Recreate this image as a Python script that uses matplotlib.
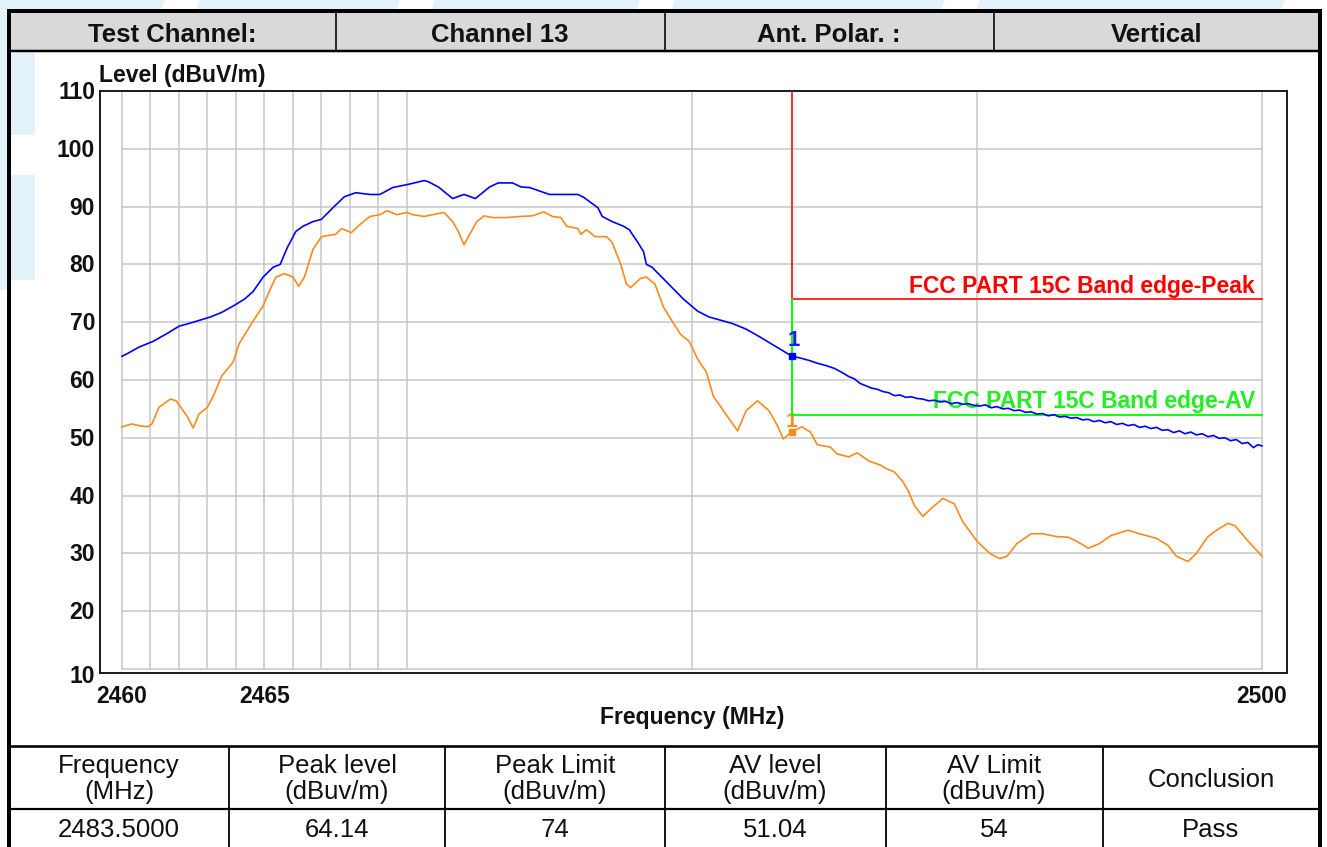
import matplotlib
matplotlib.use("Agg")
import matplotlib.pyplot as plt
from matplotlib.patches import Rectangle, Polygon
from matplotlib.lines import Line2D

plt.rcParams['font.family'] = ['Liberation Sans', 'DejaVu Sans']

# ---------------- data ----------------
header_cells = ["Test Channel:", "Channel 13", "Ant. Polar. :", "Vertical"]
table_head = [("Frequency", "(MHz)"), ("Peak level", "(dBuv/m)"), ("Peak Limit", "(dBuv/m)"),
              ("AV level", "(dBuv/m)"), ("AV Limit", "(dBuv/m)"), ("Conclusion", None)]
table_vals = ["2483.5000", "64.14", "74", "51.04", "54", "Pass"]

x_grid = [2460, 2461, 2462, 2463, 2464, 2465, 2466, 2467, 2468, 2469, 2470, 2480, 2490, 2500]
y_grid = [10, 20, 30, 40, 50, 60, 70, 80, 90, 100, 110]
x_ticklabels = [2460, 2465, 2500]
y_ticklabels = [10, 20, 30, 40, 50, 60, 70, 80, 90, 100, 110]

marker_freq = 2483.5
peak_marker = 64.14
av_marker = 51.04
peak_limit = 74
av_limit = 54

peak_f = [2460.0, 2460.2, 2460.6, 2461.1, 2461.6, 2462.0, 2462.5, 2463.1, 2463.5, 2463.9,
          2464.3, 2464.6, 2464.95, 2465.3, 2465.55, 2465.8, 2466.1, 2466.35, 2466.7, 2467.0,
          2467.4, 2467.8, 2468.2, 2468.7, 2469.05, 2469.5, 2470.0, 2470.6, 2470.75, 2471.1,
          2471.3, 2471.6, 2472.0, 2472.4, 2472.9, 2473.2, 2473.7, 2474.0, 2474.3, 2475.0,
          2476.0, 2476.2, 2476.7, 2476.85, 2477.2, 2477.6, 2477.8, 2478.1, 2478.3, 2478.4,
          2478.6, 2479.3, 2479.7, 2480.2, 2480.6, 2481.4, 2481.9, 2482.4, 2482.8, 2483.5,
          2483.8, 2484.1, 2484.4, 2484.7, 2485.0, 2485.3, 2485.5, 2485.7, 2485.9, 2486.1,
          2486.3, 2486.5, 2486.7, 2486.9, 2487.1, 2487.3, 2487.5, 2487.7, 2487.9, 2488.1,
          2488.3, 2488.5, 2488.7, 2488.9, 2489.1, 2489.3, 2489.5, 2489.7, 2489.9, 2490.1,
          2490.3, 2490.5, 2490.7, 2490.9, 2491.1, 2491.3, 2491.5, 2491.7, 2491.9, 2492.1,
          2492.3, 2492.5, 2492.7, 2492.9, 2493.1, 2493.3, 2493.5, 2493.7, 2493.9, 2494.1,
          2494.3, 2494.5, 2494.7, 2494.9, 2495.1, 2495.3, 2495.5, 2495.7, 2495.9, 2496.1,
          2496.3, 2496.5, 2496.7, 2496.9, 2497.1, 2497.3, 2497.5, 2497.7, 2497.9, 2498.1,
          2498.3, 2498.5, 2498.7, 2498.9, 2499.1, 2499.3, 2499.5, 2499.7, 2499.85, 2500.0]
peak_l = [64.1, 64.6, 65.7, 66.7, 68.1, 69.3, 70.0, 70.9, 71.7, 72.8,
          74.0, 75.3, 77.8, 79.5, 80.0, 82.9, 85.7, 86.6, 87.4, 87.8,
          89.8, 91.7, 92.4, 92.1, 92.1, 93.3, 93.8, 94.5, 94.3, 93.4,
          92.6, 91.4, 92.1, 91.4, 93.4, 94.1, 94.1, 93.4, 93.3, 92.1,
          92.1, 91.6, 89.8, 88.3, 87.4, 86.6, 86.0, 83.8, 82.2, 80.0,
          79.5, 76.0, 74.0, 71.9, 70.9, 69.8, 68.8, 67.4, 66.2, 64.14,
          63.8, 63.4, 62.9, 62.5, 62.0, 61.2, 60.6, 60.2, 59.4, 59.0,
          58.6, 58.4, 58.0, 57.8, 57.3, 57.4, 57.0, 57.1, 56.8, 56.7,
          56.4, 56.5, 56.2, 56.3, 55.9, 56.1, 55.8, 55.9, 55.6, 55.5,
          55.7, 55.2, 55.4, 55.0, 55.1, 54.7, 54.8, 54.4, 54.5, 54.1,
          54.2, 53.8, 54.0, 53.6, 53.7, 53.4, 53.5, 53.1, 53.2, 52.8,
          53.0, 52.6, 52.8, 52.3, 52.5, 52.1, 52.3, 51.8, 52.0, 51.6,
          51.8, 51.3, 51.4, 50.9, 51.2, 50.7, 51.0, 50.5, 50.7, 50.2,
          50.4, 49.9, 50.0, 49.5, 49.7, 49.0, 49.2, 48.3, 48.8, 48.6]

av_f = [2460.0, 2460.35, 2460.6, 2460.9, 2461.05, 2461.3, 2461.7, 2461.9, 2462.1, 2462.3,
        2462.5, 2462.7, 2463.0, 2463.2, 2463.5, 2463.9, 2464.1, 2464.6, 2464.95, 2465.2,
        2465.4, 2465.7, 2466.0, 2466.2, 2466.4, 2466.7, 2467.0, 2467.5, 2467.7, 2468.05,
        2468.35, 2468.7, 2469.05, 2469.3, 2469.65, 2470.0, 2470.2, 2470.6, 2470.9, 2471.3,
        2471.6, 2471.8, 2472.0, 2472.2, 2472.45, 2472.7, 2473.0, 2473.5, 2474.0, 2474.4,
        2474.8, 2475.1, 2475.4, 2475.6, 2476.0, 2476.1, 2476.3, 2476.6, 2477.0, 2477.2,
        2477.5, 2477.7, 2477.85, 2478.2, 2478.4, 2478.7, 2479.0, 2479.3, 2479.6, 2479.9,
        2480.2, 2480.5, 2480.75, 2481.1, 2481.6, 2481.9, 2482.3, 2482.7, 2483.0, 2483.2,
        2483.5, 2483.85, 2484.15, 2484.4, 2484.85, 2485.1, 2485.5, 2485.8, 2486.2, 2486.6,
        2486.8, 2487.1, 2487.4, 2487.6, 2487.8, 2488.1, 2488.4, 2488.8, 2489.2, 2489.5,
        2490.0, 2490.45, 2490.8, 2491.05, 2491.4, 2491.9, 2492.3, 2492.8, 2493.2, 2493.5,
        2493.9, 2494.3, 2494.7, 2495.3, 2495.7, 2496.3, 2496.7, 2497.0, 2497.4, 2497.7,
        2498.1, 2498.4, 2498.8, 2499.05, 2499.5, 2500.0]
av_l = [51.9, 52.4, 52.1, 51.9, 52.4, 55.3, 56.7, 56.4, 55.0, 53.6,
        51.7, 54.1, 55.3, 57.2, 60.7, 63.1, 66.2, 70.2, 72.8, 75.7,
        77.8, 78.4, 77.8, 76.2, 77.8, 82.6, 84.8, 85.2, 86.2, 85.5,
        86.9, 88.3, 88.6, 89.3, 88.6, 89.0, 88.6, 88.3, 88.6, 89.0,
        87.4, 85.7, 83.4, 85.2, 87.4, 88.4, 88.1, 88.1, 88.3, 88.4,
        89.1, 88.3, 88.1, 86.6, 86.2, 85.2, 86.0, 84.8, 84.8, 83.8,
        80.0, 76.6, 76.0, 77.6, 77.8, 76.6, 72.6, 70.2, 67.9, 66.7,
        63.6, 61.4, 57.2, 54.7, 51.2, 54.7, 56.4, 54.7, 52.1, 49.8,
        51.04, 51.9, 51.0, 48.8, 48.4, 47.2, 46.7, 47.4, 46.0, 45.3,
        44.7, 44.1, 42.4, 40.7, 38.3, 36.4, 37.8, 39.5, 38.6, 35.5,
        32.1, 30.0, 29.1, 29.5, 31.7, 33.4, 33.4, 32.9, 32.8, 32.1,
        30.9, 31.7, 33.1, 34.0, 33.4, 32.6, 31.4, 29.5, 28.6, 30.0,
        32.9, 34.0, 35.2, 34.8, 32.2, 29.5]

# ---------------- figure ----------------
W, H = 1327, 847
fig = plt.figure(figsize=(W / 100, H / 100), dpi=100)
fig.patch.set_facecolor('white')


def fx(x):
    return x / W


def fy(y):
    return 1 - y / H


def fig_line(x0, y0, x1, y1, lw_px, color='black', z=5):
    fig.add_artist(Line2D([fx(x0), fx(x1)], [fy(y0), fy(y1)], transform=fig.transFigure,
                          color=color, lw=lw_px * 0.72, zorder=z, solid_capstyle='butt'))


def fig_rect(x0, y0, x1, y1, color, z=1):
    fig.add_artist(Rectangle((fx(x0), fy(y1)), fx(x1) - fx(x0), fy(y0) - fy(y1),
                             transform=fig.transFigure, facecolor=color, edgecolor='none', zorder=z))


# light blue watermark fragments
wm = '#e3f1fb'
top_segments = [(0, 165), (200, 400), (435, 640), (675, 945), (980, 1285)]
for a, b in top_segments:
    fig.add_artist(Polygon([(fx(a), fy(0)), (fx(b), fy(0)), (fx(b - 4), fy(10)), (fx(a - 4), fy(10))],
                           closed=True, transform=fig.transFigure, facecolor=wm, edgecolor='none', zorder=0))
fig_rect(0, 0, 8, 290, wm, z=0)
fig_rect(11, 53, 35, 135, wm, z=0)
fig_rect(11, 175, 35, 280, wm, z=0)

# header
fig_rect(10, 12, 1319, 51, '#d9d9d9', z=1)
fig_line(8, 11, 1321, 11, 4)
fig_line(9, 9, 9, 849, 4)
fig_line(1320, 9, 1320, 849, 4)
fig_line(9, 51, 1320, 51, 2.5)
for xd in [336, 665, 994]:
    fig_line(xd, 11, xd, 51, 1.6)
header_centers = [172, 500, 829, 1157]
for c, t in zip(header_centers, header_cells):
    fig.text(fx(c), fy(42), t, ha='center', va='baseline', fontsize=18.5, fontweight='bold',
             color='#111111', zorder=6)

# bottom table
fig_line(9, 746, 1320, 746, 2.6)
fig_line(9, 808.5, 1320, 808.5, 2.2)
for xd in [229, 445, 665, 886, 1103]:
    fig_line(xd, 746, xd, 849, 1.8)
col_centers = [119, 337, 555, 775, 994, 1211]
tfs = 18.5
for c, (l1, l2), v in zip(col_centers, table_head, table_vals):
    if l2 is None:
        fig.text(fx(c), fy(787), l1, ha='center', va='baseline', fontsize=tfs, color='#111111')
    else:
        fig.text(fx(c), fy(773), l1, ha='center', va='baseline', fontsize=tfs, color='#111111')
        fig.text(fx(c), fy(799), l2, ha='center', va='baseline', fontsize=tfs, color='#111111')
    fig.text(fx(c), fy(837), v, ha='center', va='baseline', fontsize=tfs, color='#111111')

# ---------------- plot area ----------------
ax_l, ax_r, ax_t, ax_b = 100, 1287, 91, 673
ax = fig.add_axes([fx(ax_l), fy(ax_b), (ax_r - ax_l) / W, (ax_b - ax_t) / H])
px_per_mhz = (1262 - 122) / 40.0
px_per_db = (669 - 91) / 100.0
ax.set_xlim(2460 - (122 - ax_l) / px_per_mhz, 2500 + (ax_r - 1262) / px_per_mhz)
ax.set_ylim(10 - (ax_b - 669) / px_per_db, 110)
ax.set_xticks([])
ax.set_yticks([])
for s in ax.spines.values():
    s.set_color('#1a1a1a')
    s.set_linewidth(1.4)

grid_c = '#c8c8c8'
for v in x_grid:
    ax.plot([v, v], [10, 110], color=grid_c, lw=1.1, zorder=1)
for h in y_grid:
    ax.plot([2460, 2500], [h, h], color=grid_c, lw=1.1, zorder=1)

# limit lines
red = '#ff1a1a'
green = '#00ff00'
ax.plot([marker_freq, marker_freq], [peak_limit, 110], color=red, lw=1.3, zorder=4)
ax.plot([marker_freq, 2500], [peak_limit, peak_limit], color=red, lw=1.3, zorder=4)
ax.plot([marker_freq, 2500], [av_limit, av_limit], color=green, lw=1.3, zorder=4)

# traces
ax.plot(av_f, av_l, color='#ff8a1c', lw=1.2, zorder=3)
ax.plot(peak_f, peak_l, color='#0000ff', lw=1.2, zorder=6)

# markers
ax.text(marker_freq, 52.8, '1', color='#ff8a1c', fontsize=15, fontweight='bold',
        ha='center', va='center', zorder=3.5)
ax.plot([marker_freq, marker_freq], [av_limit, peak_limit], color=green, lw=1.4, zorder=4.5)
ax.plot([marker_freq], [peak_marker], marker='s', ms=4.5, color='#0000ff', zorder=7)
ax.plot([marker_freq], [av_marker], marker='s', ms=5, color='#ff8a1c', zorder=7)
ax.text(marker_freq + 0.08, 66.9, '1', color='#1a1aff', fontsize=16, fontweight='bold',
        ha='center', va='center', zorder=7)

# limit labels
ax.text(2499.75, peak_limit + 6 / px_per_db, 'FCC PART 15C Band edge-Peak', color='#ff0000',
        fontsize=16.5, fontweight='bold', ha='right', va='baseline', zorder=5)
ax.text(2499.75, av_limit + 7 / px_per_db, 'FCC PART 15C Band edge-AV', color='#22ee22',
        fontsize=16.5, fontweight='bold', ha='right', va='baseline', zorder=5)

# tick labels
ytr = ax.get_yaxis_transform()
for v in y_ticklabels:
    off = 14 if v == 10 else 8
    ax.text(-5 / (ax_r - ax_l), v - off / px_per_db, str(v), transform=ytr, ha='right',
            va='baseline', fontsize=16.5, fontweight='bold', color='#111111', clip_on=False)
xtr = ax.get_xaxis_transform()
for v in x_ticklabels:
    ax.text(v, -(703 - ax_b) / (ax_b - ax_t), str(v), transform=xtr, ha='center',
            va='baseline', fontsize=16.5, fontweight='bold', color='#111111', clip_on=False)

fig.text(fx(99), fy(82), 'Level (dBuV/m)', ha='left', va='baseline', fontsize=16.5,
         fontweight='bold', color='#111111')
fig.text(fx(692), fy(724), 'Frequency (MHz)', ha='center', va='baseline', fontsize=16.5,
         fontweight='bold', color='#111111')

fig.savefig('out.png', dpi=100)
